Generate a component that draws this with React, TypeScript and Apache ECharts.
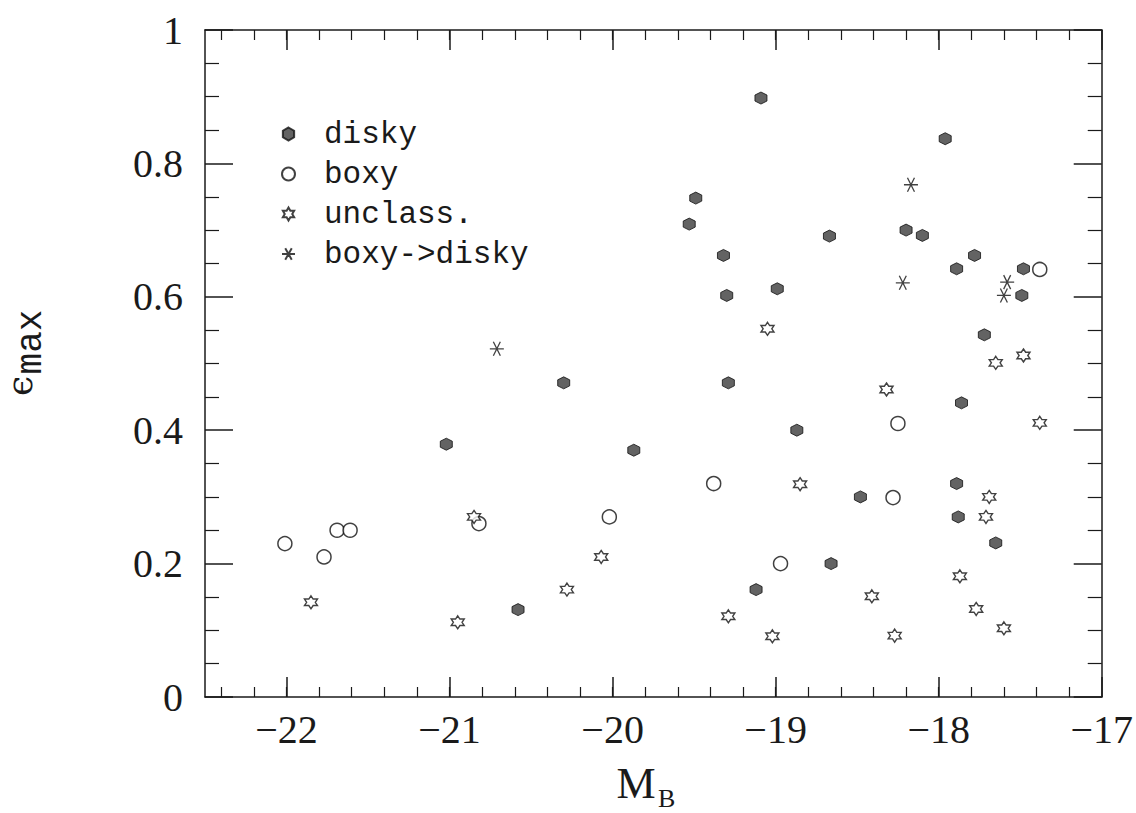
import React, { useEffect, useRef } from "react";
import * as echarts from "echarts";

// M_B, epsilon_max pairs
const disky: number[][] = [
  [-19.09, 0.898], [-17.96, 0.837], [-19.49, 0.748], [-19.53, 0.709], [-18.67, 0.691],
  [-18.2, 0.7], [-18.1, 0.692], [-19.32, 0.662], [-17.78, 0.662], [-17.89, 0.642],
  [-17.48, 0.642], [-17.49, 0.602], [-19.3, 0.602], [-18.99, 0.612], [-17.72, 0.543],
  [-19.29, 0.471], [-17.86, 0.441], [-18.87, 0.4], [-18.48, 0.3], [-17.89, 0.32],
  [-17.88, 0.27], [-17.65, 0.231], [-18.66, 0.2], [-19.12, 0.161], [-20.3, 0.471],
  [-21.02, 0.379], [-19.87, 0.37], [-20.58, 0.131],
];
const boxy: number[][] = [
  [-17.38, 0.641], [-18.25, 0.41], [-19.38, 0.32], [-18.28, 0.299], [-18.97, 0.2],
  [-20.82, 0.26], [-20.02, 0.27], [-22.01, 0.23], [-21.77, 0.21], [-21.69, 0.25],
  [-21.61, 0.25],
];
const unclass: number[][] = [
  [-19.05, 0.552], [-17.48, 0.512], [-17.65, 0.501], [-18.32, 0.461], [-17.38, 0.411],
  [-18.85, 0.319], [-17.69, 0.3], [-17.71, 0.27], [-17.87, 0.181], [-18.41, 0.151],
  [-17.77, 0.132], [-19.29, 0.121], [-17.6, 0.103], [-19.02, 0.091], [-18.27, 0.092],
  [-20.85, 0.27], [-20.07, 0.21], [-20.28, 0.161], [-21.85, 0.142], [-20.95, 0.112],
];
const boxyToDisky: number[][] = [
  [-18.17, 0.768], [-18.22, 0.621], [-17.58, 0.622], [-17.6, 0.602], [-20.71, 0.522],
];

const seriesNames = ["disky", "boxy", "unclass.", "boxy->disky"];
const xMajorTicks = [-22, -21, -20, -19, -18, -17];
const xMinorTicks = [
  -22.4, -22.2, -22, -21.8, -21.6, -21.4, -21.2, -21, -20.8, -20.6, -20.4, -20.2, -20,
  -19.8, -19.6, -19.4, -19.2, -19, -18.8, -18.6, -18.4, -18.2, -18, -17.8, -17.6, -17.4, -17.2,
];

const HEX = "path://M0,-10 L8.66,-5 L8.66,5 L0,10 L-8.66,5 L-8.66,-5 Z";
const STAR =
  "path://M0,-10 L2.887,-5 L8.66,-5 L5.774,0 L8.66,5 L2.887,5 L0,10 L-2.887,5 L-8.66,5 L-5.774,0 L-8.66,-5 L-2.887,-5 Z";
const AST = "path://M-10,0 L10,0 M-5,-8.66 L5,8.66 M-5,8.66 L5,-8.66";

const SERIF = "'Liberation Serif', 'DejaVu Serif', serif";
const MONO = "'Liberation Mono', 'DejaVu Sans Mono', monospace";

export default function App() {
  const ref = useRef<HTMLDivElement>(null);
  useEffect(() => {
    if (!ref.current) return;
    const chart = echarts.init(ref.current, undefined, { renderer: "svg" });
    const ink = "#1a1a1a";
    const xBase = { type: "value", min: -22.5, max: -17, gridIndex: 0, splitLine: { show: false } };
    const yBase = { type: "value", min: 0, max: 1, interval: 0.2, gridIndex: 0, splitLine: { show: false } };
    chart.setOption({
      animation: false,
      backgroundColor: "#fff",
      grid: { left: 205, top: 30, width: 899, height: 667 },
      xAxis: [
        {
          ...xBase,
          position: "bottom",
          axisLine: { show: true, onZero: false, lineStyle: { color: ink, width: 1.5 } },
          axisTick: { show: true, inside: true, length: 20, customValues: xMajorTicks, lineStyle: { color: ink, width: 1.5 } },
          axisLabel: {
            show: true,
            customValues: xMajorTicks,
            margin: 12,
            fontFamily: SERIF,
            fontSize: 40,
            color: ink,
            formatter: (v: number) => (v < 0 ? "\u2212" + Math.abs(v) : String(v)),
          },
        },
        {
          ...xBase,
          position: "bottom",
          axisLine: { show: false, onZero: false },
          axisTick: { show: true, inside: true, length: 10, customValues: xMinorTicks, lineStyle: { color: ink, width: 1.2 } },
          axisLabel: { show: false },
        },
        {
          ...xBase,
          position: "top",
          axisLine: { show: true, onZero: false, lineStyle: { color: ink, width: 1.5 } },
          axisTick: { show: true, inside: true, length: 20, customValues: xMajorTicks, lineStyle: { color: ink, width: 1.5 } },
          axisLabel: { show: false },
        },
        {
          ...xBase,
          position: "top",
          axisLine: { show: false, onZero: false },
          axisTick: { show: true, inside: true, length: 10, customValues: xMinorTicks, lineStyle: { color: ink, width: 1.2 } },
          axisLabel: { show: false },
        },
      ],
      yAxis: [
        {
          ...yBase,
          position: "left",
          axisLine: { show: true, onZero: false, lineStyle: { color: ink, width: 1.5 } },
          axisTick: { show: true, inside: true, length: 28, lineStyle: { color: ink, width: 1.5 } },
          minorTick: { show: true, splitNumber: 4, length: 14, lineStyle: { color: ink, width: 1.2 } },
          axisLabel: { show: true, margin: 22, fontFamily: SERIF, fontSize: 40, color: ink },
        },
        {
          ...yBase,
          position: "right",
          axisLine: { show: true, onZero: false, lineStyle: { color: ink, width: 1.5 } },
          axisTick: { show: true, inside: true, length: 28, lineStyle: { color: ink, width: 1.5 } },
          minorTick: { show: true, splitNumber: 4, length: 14, lineStyle: { color: ink, width: 1.2 } },
          axisLabel: { show: false },
        },
      ],
      legend: {
        show: true,
        orient: "vertical",
        left: 276,
        top: 109,
        itemWidth: 13,
        itemHeight: 13,
        itemGap: 0,
        data: seriesNames,
        textStyle: {
          fontFamily: MONO,
          fontSize: 31,
          lineHeight: 40,
          color: ink,
          padding: [0, 0, 0, 24],
        },
      },
      series: [
        {
          name: seriesNames[0],
          type: "scatter",
          data: disky,
          symbol: HEX,
          symbolSize: 12,
          itemStyle: { color: "#3c3c3c", borderColor: "#111", borderWidth: 1 },
        },
        {
          name: seriesNames[1],
          type: "scatter",
          data: boxy,
          symbol: "circle",
          symbolSize: 14,
          itemStyle: { color: "#fff", borderColor: "#111", borderWidth: 1.5 },
        },
        {
          name: seriesNames[2],
          type: "scatter",
          data: unclass,
          symbol: STAR,
          symbolSize: 13,
          itemStyle: { color: "#fff", borderColor: "#111", borderWidth: 1.4 },
        },
        {
          name: seriesNames[3],
          type: "scatter",
          data: boxyToDisky,
          symbol: AST,
          symbolSize: 14,
          itemStyle: { color: "#111", borderColor: "#111", borderWidth: 1.3 },
        },
      ],
      graphic: [
        {
          type: "text",
          x: 19,
          y: 386,
          rotation: Math.PI / 2,
          style: { text: "\u03f5", fontFamily: "'DejaVu Serif', serif", fontSize: 36, fill: ink, align: "center", verticalAlign: "middle" },
        },
        {
          type: "text",
          x: 31,
          y: 342,
          rotation: Math.PI / 2,
          style: { text: "max", fontFamily: MONO, fontSize: 36, fill: ink, align: "center", verticalAlign: "middle" },
        },
        {
          type: "text",
          x: 636,
          y: 783,
          style: { text: "M", fontFamily: SERIF, fontSize: 44, fill: ink, align: "center", verticalAlign: "middle" },
        },
        {
          type: "text",
          x: 658,
          y: 798,
          style: { text: "B", fontFamily: SERIF, fontSize: 26, fill: ink, align: "left", verticalAlign: "middle" },
        },
      ],
    });
    return () => chart.dispose();
  }, []);
  return (
    <div
      ref={ref}
      style={{ position: "absolute", left: 0, top: 0, width: 1136, height: 813, background: "#fff" }}
    />
  );
}
